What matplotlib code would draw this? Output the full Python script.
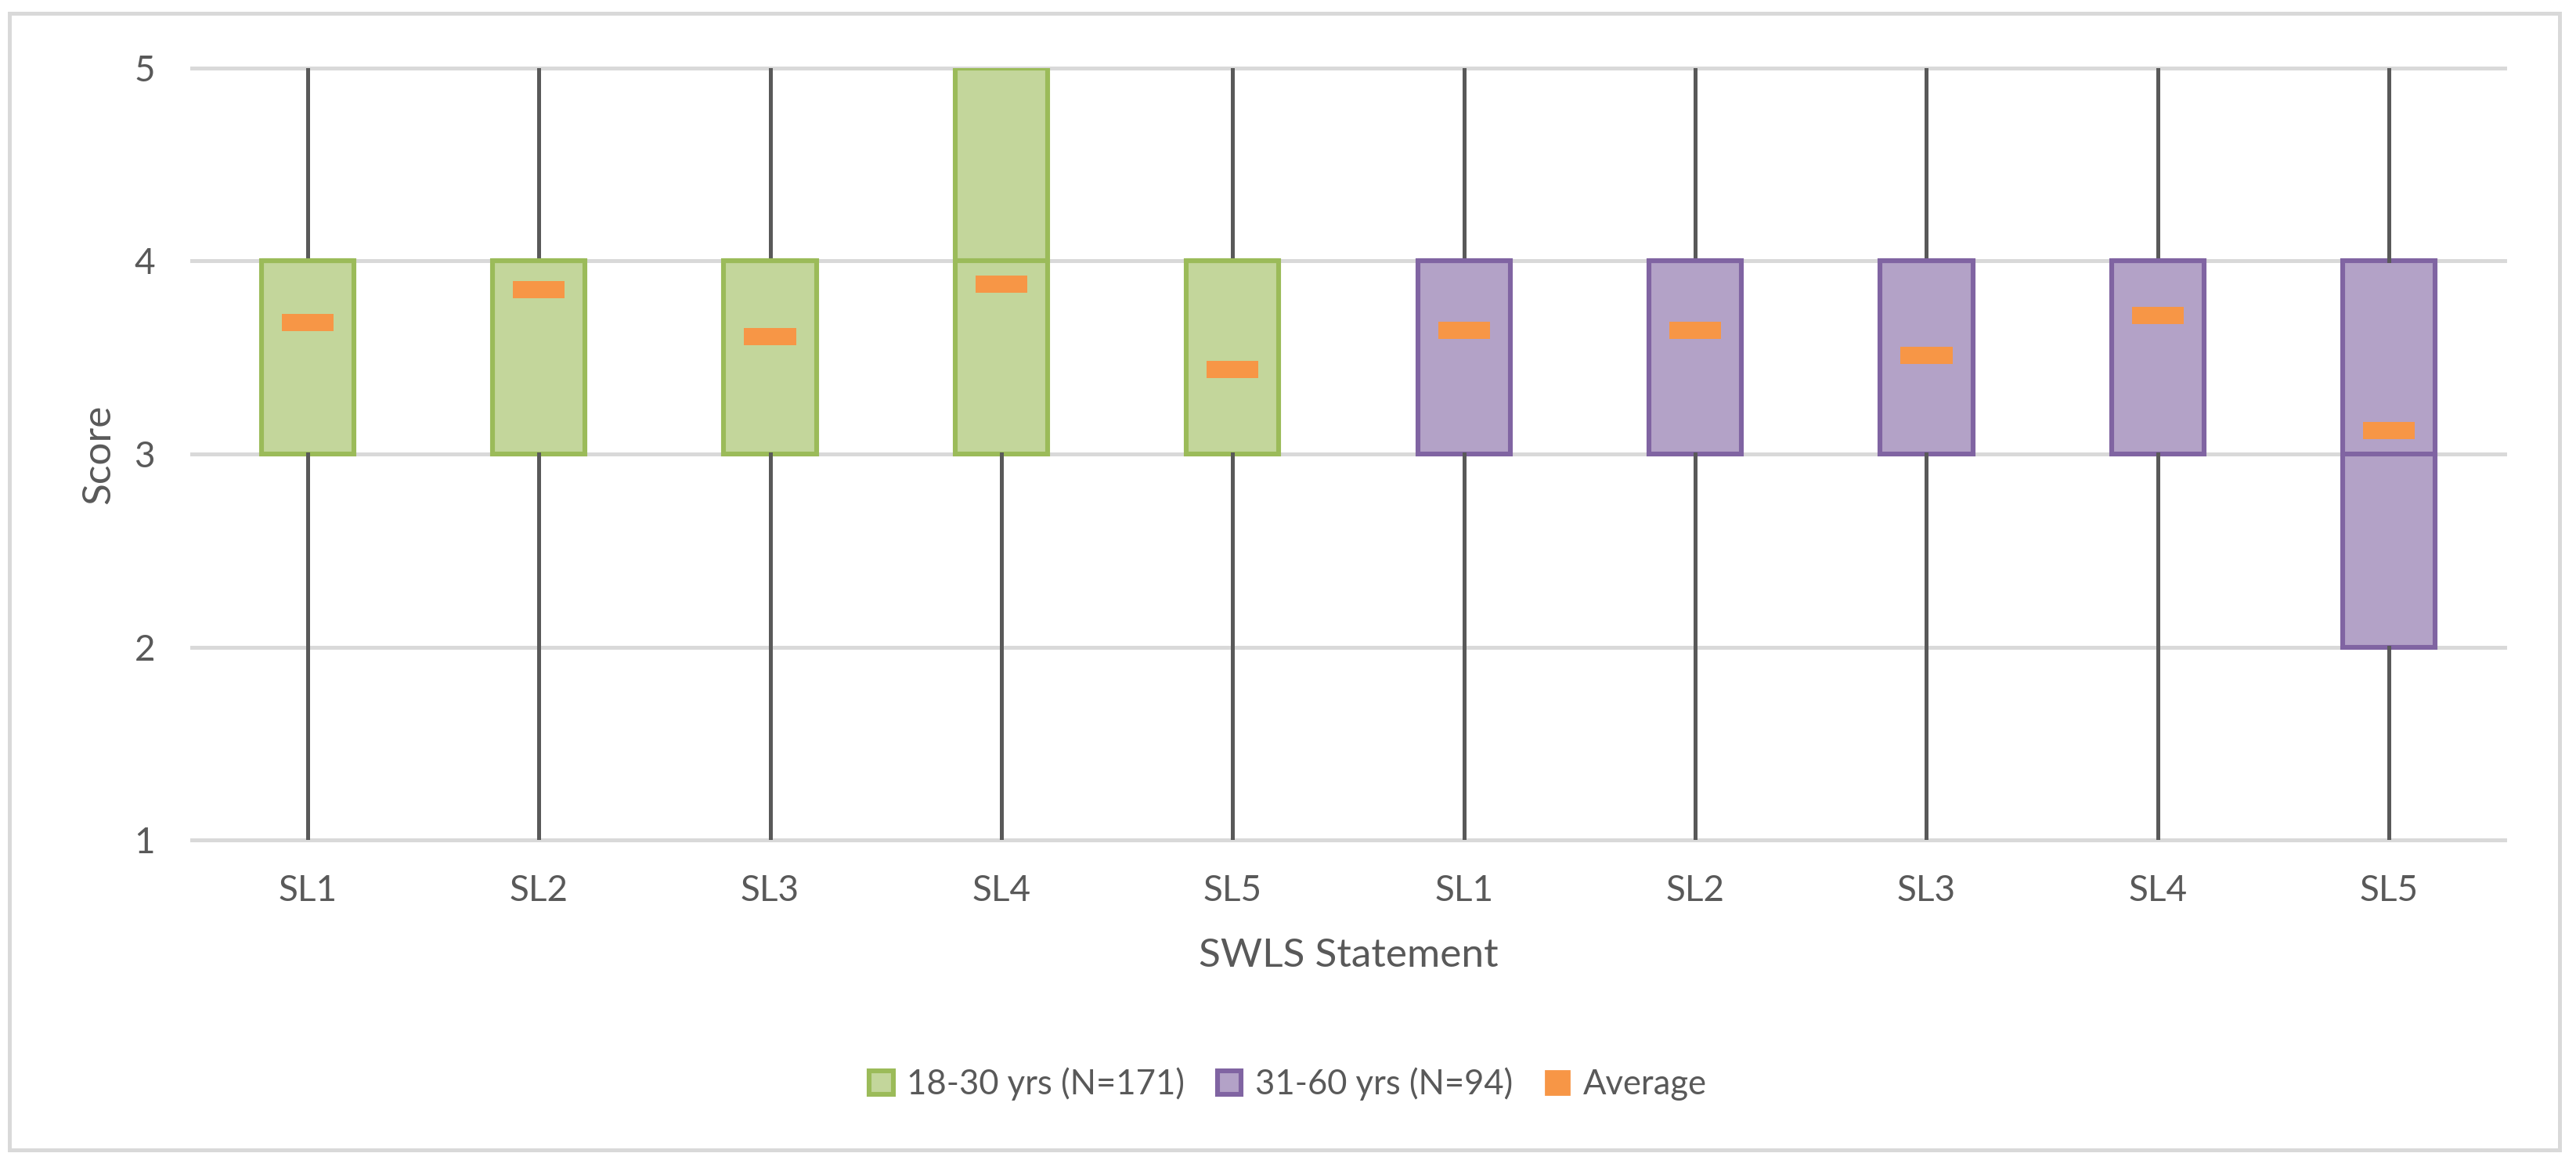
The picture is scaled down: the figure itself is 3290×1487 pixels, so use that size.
import matplotlib.pyplot as plt
from matplotlib.patches import Patch, Rectangle
import numpy as np

plt.rcParams['font.family'] = ['Lato', 'DejaVu Sans']

statements = ['SL1', 'SL2', 'SL3', 'SL4', 'SL5']

# 18-30 yrs (N=171)
young_min = [1, 1, 1, 1, 1]
young_q1 = [3, 3, 3, 3, 3]
young_med = [4, 4, 4, 4, 4]
young_q3 = [4, 4, 4, 5, 4]
young_max = [5, 5, 5, 5, 5]
young_mean = [3.68, 3.85, 3.61, 3.88, 3.44]

# 31-60 yrs (N=94)
old_min = [1, 1, 1, 1, 1]
old_q1 = [3, 3, 3, 3, 2]
old_med = [4, 4, 4, 4, 3]
old_q3 = [4, 4, 4, 4, 4]
old_max = [5, 5, 5, 5, 5]
old_mean = [3.64, 3.64, 3.51, 3.72, 3.12]

txt = '#595959'
grid_c = '#D9D9D9'
green_edge, green_fill = '#9BBB59', '#C3D69B'
purple_edge, purple_fill = '#8064A2', '#B3A2C7'
orange = '#F79646'


def make_stats(lo, q1, med, q3, hi):
    return [dict(whislo=a, q1=b, med=c, q3=d, whishi=e, fliers=[])
            for a, b, c, d, e in zip(lo, q1, med, q3, hi)]


fig = plt.figure(figsize=(16.45, 7.435), dpi=200)
ax = fig.add_axes([0.0745, 0.2784, 0.8978, 0.6631])

pos_young = np.arange(5) + 0.5
pos_old = np.arange(5) + 5.5

for stats, pos, edge, fill in [
        (make_stats(young_min, young_q1, young_med, young_q3, young_max), pos_young, green_edge, green_fill),
        (make_stats(old_min, old_q1, old_med, old_q3, old_max), pos_old, purple_edge, purple_fill)]:
    ax.bxp(stats, positions=pos, widths=0.4, patch_artist=True,
           showcaps=False, showfliers=False, manage_ticks=False,
           boxprops=dict(facecolor=fill, edgecolor=edge, linewidth=2.2),
           medianprops=dict(color=edge, linewidth=2.2),
           whiskerprops=dict(color=txt, linewidth=1.8),
           zorder=3)

ax.hlines(young_mean, pos_young - 0.112, pos_young + 0.112, colors=orange,
          linewidth=7.9, capstyle='butt', zorder=4)
ax.hlines(old_mean, pos_old - 0.112, pos_old + 0.112, colors=orange,
          linewidth=7.9, capstyle='butt', zorder=4)

ax.set_xlim(0, 10)
ax.set_ylim(1, 5)
ax.set_yticks([1, 2, 3, 4, 5])
ax.set_xticks(np.concatenate([pos_young, pos_old]))
ax.set_xticklabels(statements + statements)
ax.tick_params(length=0, labelsize=16.5, labelcolor=txt)
ax.tick_params(axis='y', pad=17)
ax.tick_params(axis='x', pad=16)
ax.yaxis.grid(True, color=grid_c, linewidth=1.8)
for gl in ax.get_ygridlines():
    gl.set_clip_on(False)
ax.set_axisbelow(True)
for s in ax.spines.values():
    s.set_visible(False)

ax.set_ylabel('Score', fontsize=18.5, color=txt)
ax.yaxis.set_label_coords(-0.0325, 0.5)
ax.set_xlabel('SWLS Statement', fontsize=18.5, color=txt)
ax.xaxis.set_label_coords(0.5, -0.127)

handles = [Patch(facecolor=green_fill, edgecolor=green_edge, linewidth=2.2),
           Patch(facecolor=purple_fill, edgecolor=purple_edge, linewidth=2.2),
           Patch(facecolor=orange, edgecolor=orange)]
fig.legend(handles, ['18-30 yrs (N=171)', '31-60 yrs (N=94)', 'Average'],
           loc='center', bbox_to_anchor=(0.5, 0.0686), ncol=3, frameon=False,
           fontsize=15.7, labelcolor=txt, handlelength=0.7, handleheight=0.7,
           handletextpad=0.4, columnspacing=0.95)

fig.patches.append(Rectangle((0.0035, 0.0121), 0.990, 0.9765, transform=fig.transFigure,
                             fill=False, edgecolor=grid_c, linewidth=1.8))

fig.savefig('out.png', dpi=200)
